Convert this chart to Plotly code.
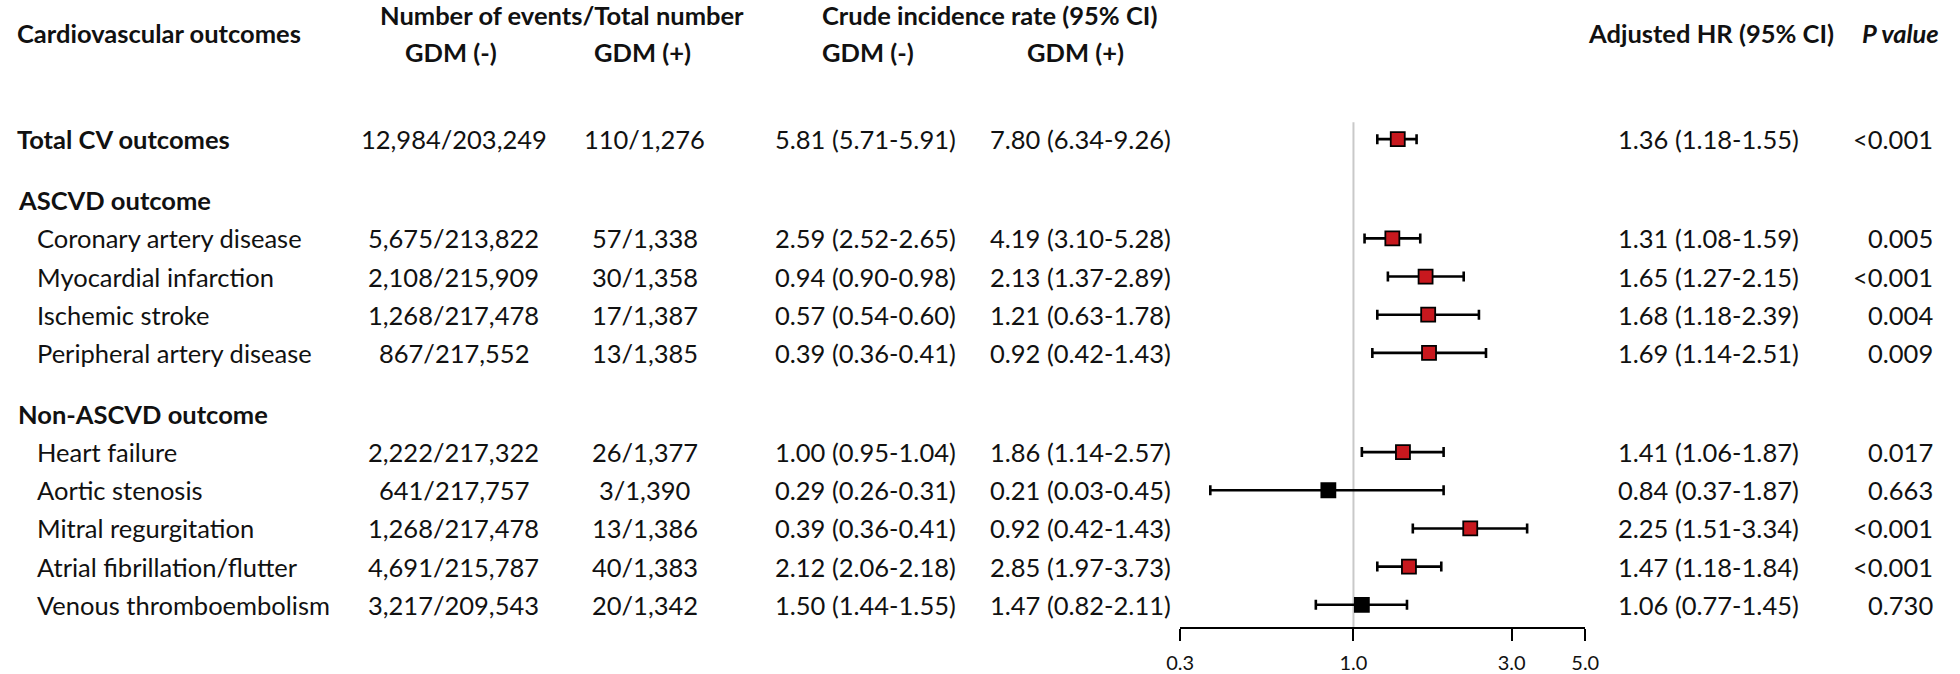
import math
import plotly.graph_objects as go

# ---------------- data ----------------
outcomes = ["Total CV outcomes", "ASCVD outcome", "Coronary artery disease",
            "Myocardial infarction", "Ischemic stroke", "Peripheral artery disease",
            "Non-ASCVD outcome", "Heart failure", "Aortic stenosis",
            "Mitral regurgitation", "Atrial fibrillation/flutter",
            "Venous thromboembolism"]
row_kind = ["total", "section", "item", "item", "item", "item",
            "section", "item", "item", "item", "item", "item"]

events_neg = ["12,984/203,249", None, "5,675/213,822", "2,108/215,909", "1,268/217,478",
              "867/217,552", None, "2,222/217,322", "641/217,757", "1,268/217,478",
              "4,691/215,787", "3,217/209,543"]
events_pos = ["110/1,276", None, "57/1,338", "30/1,358", "17/1,387", "13/1,385", None,
              "26/1,377", "3/1,390", "13/1,386", "40/1,383", "20/1,342"]

crude_neg = [(5.81, 5.71, 5.91), None, (2.59, 2.52, 2.65), (0.94, 0.90, 0.98),
             (0.57, 0.54, 0.60), (0.39, 0.36, 0.41), None, (1.00, 0.95, 1.04),
             (0.29, 0.26, 0.31), (0.39, 0.36, 0.41), (2.12, 2.06, 2.18), (1.50, 1.44, 1.55)]
crude_pos = [(7.80, 6.34, 9.26), None, (4.19, 3.10, 5.28), (2.13, 1.37, 2.89),
             (1.21, 0.63, 1.78), (0.92, 0.42, 1.43), None, (1.86, 1.14, 2.57),
             (0.21, 0.03, 0.45), (0.92, 0.42, 1.43), (2.85, 1.97, 3.73), (1.47, 0.82, 2.11)]

hr =    [1.36, None, 1.31, 1.65, 1.68, 1.69, None, 1.41, 0.84, 2.25, 1.47, 1.06]
hr_lo = [1.18, None, 1.08, 1.27, 1.18, 1.14, None, 1.06, 0.37, 1.51, 1.18, 0.77]
hr_hi = [1.55, None, 1.59, 2.15, 2.39, 2.51, None, 1.87, 1.87, 3.34, 1.84, 1.45]
p_values = ["<0.001", None, "0.005", "<0.001", "0.004", "0.009", None,
            "0.017", "0.663", "<0.001", "<0.001", "0.730"]

axis_ticks = [0.3, 1.0, 3.0, 5.0]
axis_ticktext = ["0.3", "1.0", "3.0", "5.0"]

# ---------------- layout constants ----------------
W, H = 1960, 674
FONT = "Lato, 'Open Sans', sans-serif"
FS = 25.5
BLACK = "#000000"
TEXT = "#111111"
RED = "#c8181e"

ROW0, STEP, SECTION_GAP = 140, 38.4, 23
row_y = []
y = ROW0
for i, k in enumerate(row_kind):
    if i > 0:
        y += STEP + (SECTION_GAP if k == "section" else 0)
    row_y.append(y)

AXIS_Y = 632
REF_TOP = 123
X_LEFT_PX, X_RIGHT_PX = 1183, 1594

COL_EVT_NEG, COL_EVT_POS = 446, 640
COL_CR_NEG, COL_CR_POS = 864, 1082
COL_HR = 1719
COL_P_RIGHT = 1947


def px(x):
    return x / W


def py(yv):
    return 1 - yv / H


annotations = []


def txt(x, yv, s, anchor="center", bold=False, italic=False, size=FS):
    if bold:
        s = "<b>" + s + "</b>"
    if italic:
        s = "<i>" + s + "</i>"
    annotations.append(dict(x=px(x), y=py(yv), xref="paper", yref="paper", text=s,
                            showarrow=False, xanchor=anchor, yanchor="middle",
                            borderpad=0, borderwidth=0,
                            font=dict(family=FONT, size=size, color=TEXT)))


def fmt_ci(t):
    return f"{t[0]:.2f} ({t[1]:.2f}-{t[2]:.2f})"


# headers
txt(3, 33, "Cardiovascular outcomes", anchor="left", bold=True)
txt(556, 15, "Number of events/Total number", bold=True)
txt(443, 52, "GDM (-)", bold=True)
txt(638, 52, "GDM (+)", bold=True)
txt(990, 15, "Crude incidence rate (95% CI)", bold=True)
txt(866, 52, "GDM (-)", bold=True)
txt(1077, 52, "GDM (+)", bold=True)
txt(1722, 33, "Adjusted HR (95% CI)", bold=True)
txt(1875, 33, "P value", anchor="left", bold=True, italic=True)

# rows
for i, name in enumerate(outcomes):
    yv = row_y[i]
    kind = row_kind[i]
    if kind == "total":
        txt(3, yv, name, anchor="left", bold=True)
    elif kind == "section":
        txt(4, yv, name, anchor="left", bold=True)
    else:
        txt(23, yv, name, anchor="left")
    if events_neg[i] is not None:
        txt(COL_EVT_NEG, yv, events_neg[i])
        txt(COL_EVT_POS, yv, events_pos[i])
        txt(COL_CR_NEG, yv, fmt_ci(crude_neg[i]))
        txt(COL_CR_POS, yv, fmt_ci(crude_pos[i]))
        txt(COL_HR, yv, fmt_ci((hr[i], hr_lo[i], hr_hi[i])))
        txt(COL_P_RIGHT, yv, p_values[i], anchor="right")

# forest plot
idx = [i for i in range(len(outcomes)) if hr[i] is not None]
xs = [hr[i] for i in idx]
ys = [row_y[i] for i in idx]
plus = [hr_hi[i] - hr[i] for i in idx]
minus = [hr[i] - hr_lo[i] for i in idx]
colors = [RED if (hr_lo[i] > 1 or hr_hi[i] < 1) else BLACK for i in idx]

fig = go.Figure()
fig.add_trace(go.Scatter(
    x=xs, y=ys, mode="markers",
    marker=dict(symbol="square", size=14, color=colors,
                line=dict(color=BLACK, width=1.8)),
    error_x=dict(type="data", symmetric=False, array=plus, arrayminus=minus,
                 color=BLACK, thickness=2.6, width=5),
    hoverinfo="skip", showlegend=False,
))

fig.add_shape(type="line", xref="x", yref="y", x0=1, x1=1, y0=REF_TOP, y1=AXIS_Y,
              line=dict(color="#c9c9c9", width=2), layer="below")

fig.update_layout(
    width=W, height=H,
    margin=dict(l=0, r=0, t=0, b=0),
    paper_bgcolor="white", plot_bgcolor="rgba(0,0,0,0)",
    annotations=annotations,
    xaxis=dict(type="log", range=[math.log10(0.3), math.log10(5.0)],
               domain=[px(X_LEFT_PX), px(X_RIGHT_PX)],
               anchor="free", position=py(AXIS_Y),
               showline=True, linecolor=BLACK, linewidth=2,
               ticks="outside", ticklen=12, tickwidth=2, tickcolor=BLACK,
               tickvals=axis_ticks, ticktext=axis_ticktext,
               tickfont=dict(family=FONT, size=20, color=TEXT),
               ticklabelstandoff=5,
               showgrid=False, zeroline=False, fixedrange=True),
    yaxis=dict(range=[H, 0], domain=[0, 1], visible=False, showgrid=False,
               zeroline=False, fixedrange=True),
)

fig.write_html("out.html", config={"displayModeBar": False},
               post_script="document.body.style.margin='0px';")
